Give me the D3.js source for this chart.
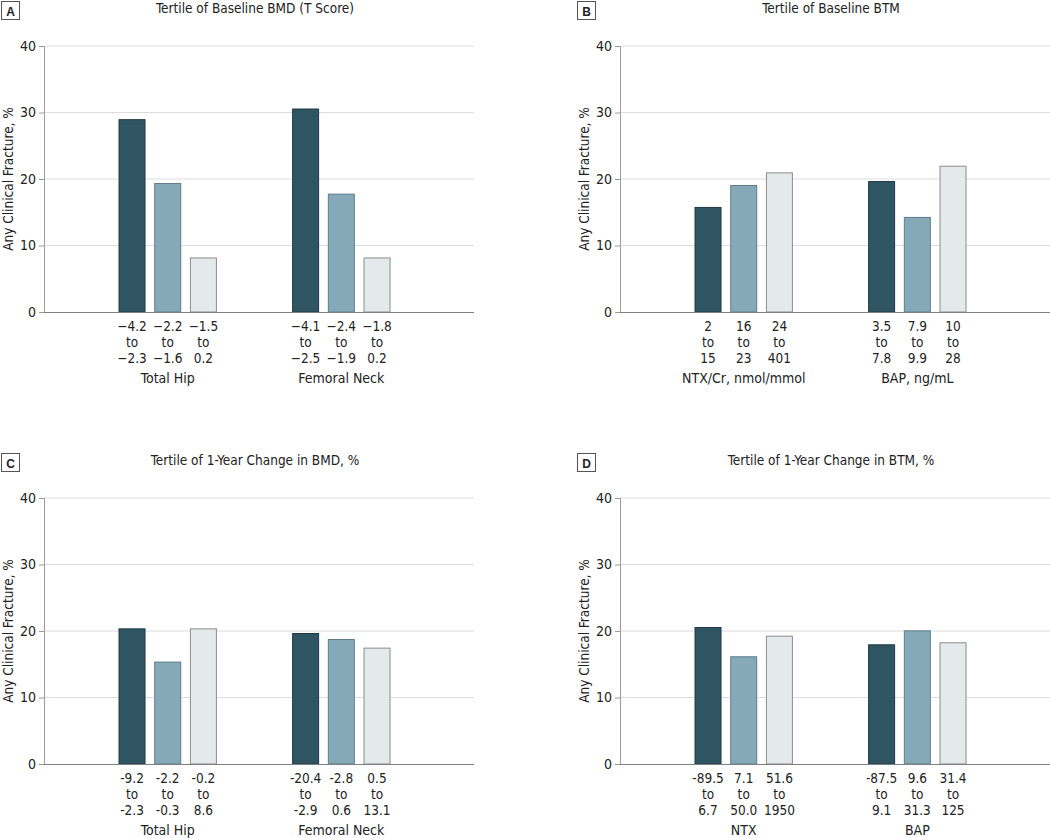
<!DOCTYPE html>
<html><head><meta charset="utf-8">
<script src="https://cdn.jsdelivr.net/npm/d3@7"></script>
<style>
body{margin:0;background:#fff;}
text{font-family:"Liberation Sans Narrow","DejaVu Sans Condensed","Roboto Condensed",sans-serif;fill:#222;}
</style></head>
<body><svg id="chart" width="1050" height="838"></svg>
<script>
// ---- data ----
const panelLetters = ["A", "B", "C", "D"];
const panelTitles = ["Tertile of Baseline BMD (T Score)", "Tertile of Baseline BTM",
  "Tertile of 1-Year Change in BMD, %", "Tertile of 1-Year Change in BTM, %"];
const groupNames = [["Total Hip", "Femoral Neck"], ["NTX/Cr, nmol/mmol", "BAP, ng/mL"],
  ["Total Hip", "Femoral Neck"], ["NTX", "BAP"]];
const valuesA = [[29.0, 19.4, 8.2], [30.6, 17.8, 8.2]];
const valuesB = [[15.8, 19.1, 21.0], [19.7, 14.3, 22.0]];
const valuesC = [[20.4, 15.4, 20.4], [19.7, 18.8, 17.5]];
const valuesD = [[20.6, 16.2, 19.3], [18.0, 20.1, 18.3]];
const tertileLabelsA = [[["−4.2","−2.3"],["−2.2","−1.6"],["−1.5","0.2"]], [["−4.1","−2.5"],["−2.4","−1.9"],["−1.8","0.2"]]];
const tertileLabelsB = [[["2","15"],["16","23"],["24","401"]], [["3.5","7.8"],["7.9","9.9"],["10","28"]]];
const tertileLabelsC = [[["-9.2","-2.3"],["-2.2","-0.3"],["-0.2","8.6"]], [["-20.4","-2.9"],["-2.8","0.6"],["0.5","13.1"]]];
const tertileLabelsD = [[["-89.5","6.7"],["7.1","50.0"],["51.6","1950"]], [["-87.5","9.1"],["9.6","31.3"],["31.4","125"]]];
const yTicks = [0, 10, 20, 30, 40];
const yLabel = "Any Clinical Fracture, %";
const tertiles = [0, 1, 2];

const allValues = [valuesA, valuesB, valuesC, valuesD];
const allTertileLabels = [tertileLabelsA, tertileLabelsB, tertileLabelsC, tertileLabelsD];
const fills = ["#2f5563", "#86a9b8", "#e4e9ec"];
const strokes = ["#1f3a44", "#5d7d8a", "#8c8c8c"];

const svg = d3.select("#chart");
const layout = [
  {ox: 0, oy: 0}, {ox: 576, oy: 0}, {ox: 0, oy: 452}, {ox: 576, oy: 452}
];

layout.forEach((L, i) => {
  const g = svg.append("g").attr("transform", `translate(${L.ox},${L.oy})`);
  const axisX = 44, plotW = 430, yTop = 46, yBot = 312;
  const y = d3.scaleLinear().domain([0, 40]).range([yBot, yTop]);
  const xg = d3.scaleBand().domain(groupNames[i]).range([axisX, axisX + plotW])
    .paddingInner(0.383).paddingOuter(0.43).align(0.47);
  const xb = d3.scaleBand().domain(tertiles).range([0, xg.bandwidth()])
    .paddingInner(0.244).paddingOuter(0.122);

  // letter box
  g.append("rect").attr("x", 1.5).attr("y", 1.5).attr("width", 18).attr("height", 18)
    .attr("fill", "none").attr("stroke", "#555").attr("stroke-width", 1);
  g.append("text").attr("x", 10.5).attr("y", 15.5).attr("text-anchor", "middle")
    .style("font-family", "'Liberation Sans','DejaVu Sans',sans-serif")
    .attr("font-weight", "bold").attr("font-size", 12).text(panelLetters[i]);
  // title
  g.append("text").attr("x", axisX + 211).attr("y", 13).attr("text-anchor", "middle")
    .attr("font-size", 13.5).text(panelTitles[i]);

  // gridlines
  g.append("g").selectAll("line").data(yTicks.filter(d => d > 0)).join("line")
    .attr("x1", axisX).attr("x2", axisX + plotW)
    .attr("y1", d => y(d)).attr("y2", d => y(d))
    .attr("stroke", "#dcdcdc").attr("stroke-width", 1);

  // y axis
  const ya = g.append("g").attr("transform", `translate(${axisX},0)`)
    .call(d3.axisLeft(y).tickValues(yTicks).tickSize(5).tickPadding(3));
  ya.select(".domain").attr("stroke", "#9a9a9a");
  ya.selectAll(".tick line").attr("stroke", "#9a9a9a");
  ya.selectAll(".tick text").attr("font-size", 14).style("font-family", null).attr("fill", "#222");

  // y label
  g.append("text").attr("transform", `translate(13,${(yTop + yBot) / 2}) rotate(-90)`)
    .attr("text-anchor", "middle").attr("font-size", 13.5).text(yLabel);

  // bars
  groupNames[i].forEach((gn, gi) => {
    const gg = g.append("g").attr("transform", `translate(${xg(gn)},0)`);
    gg.selectAll("rect").data(allValues[i][gi]).join("rect")
      .attr("x", (d, k) => xb(k) + 0.5).attr("width", xb.bandwidth() - 1)
      .attr("y", d => y(d) + 0.5).attr("height", d => yBot - y(d) - 0.5)
      .attr("fill", (d, k) => fills[k]).attr("stroke", (d, k) => strokes[k]).attr("stroke-width", 1);
    // tertile labels
    allTertileLabels[i][gi].forEach((lab, k) => {
      const cx = xb(k) + xb.bandwidth() / 2;
      [lab[0], "to", lab[1]].forEach((t, li) => {
        gg.append("text").attr("x", cx).attr("y", yBot + 18.5 + li * 16)
          .attr("text-anchor", "middle").attr("font-size", 13.5).text(t);
      });
    });
    gg.append("text").attr("x", xg.bandwidth() / 2).attr("y", yBot + 71)
      .attr("text-anchor", "middle").attr("font-size", 14).text(gn);
  });

  // baseline
  g.append("line").attr("x1", axisX).attr("x2", axisX + plotW)
    .attr("y1", yBot + 0.5).attr("y2", yBot + 0.5).attr("stroke", "#808080").attr("stroke-width", 1);
});
</script></body></html>
